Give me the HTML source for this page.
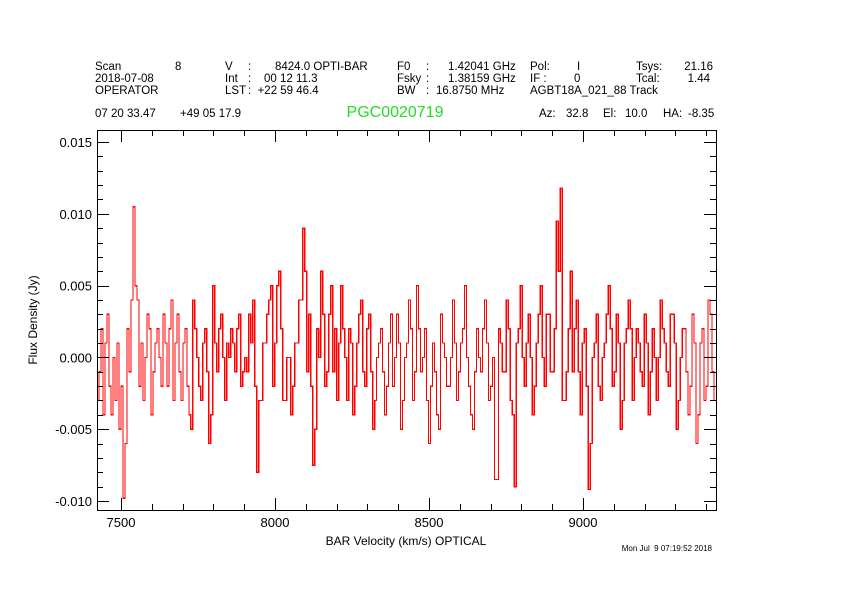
<!DOCTYPE html>
<html><head><meta charset="utf-8"><style>
body{margin:0;background:#fff;}
svg text{font-family:"Liberation Sans",sans-serif;white-space:pre;}
</style></head><body>
<svg width="842" height="595" viewBox="0 0 842 595" xmlns="http://www.w3.org/2000/svg" xml:space="preserve">
<rect width="842" height="595" fill="#fff"/>
<g font-size="11.5" fill="#000">
<text x="95" y="70">Scan</text><text x="175" y="70">8</text>
<text x="95" y="82">2018-07-08</text><text x="95" y="94">OPERATOR</text>
<text x="225" y="70">V</text><text x="248" y="70">:</text><text x="275" y="70">8424.0 OPTI-BAR</text>
<text x="225" y="82">Int</text><text x="248" y="82">:</text><text x="264" y="82">00 12 11.3</text>
<text x="225" y="94">LST</text><text x="248" y="94">:  +22 59 46.4</text>
<text x="397" y="70">F0</text><text x="426" y="70">:</text><text x="448" y="70">1.42041 GHz</text>
<text x="397" y="82">Fsky</text><text x="426" y="82">:</text><text x="448" y="82">1.38159 GHz</text>
<text x="397" y="94">BW</text><text x="426" y="94">:</text><text x="436" y="94">16.8750 MHz</text>
<text x="530" y="70">Pol:</text><text x="577" y="70">I</text>
<text x="530" y="82">IF :</text><text x="574" y="82">0</text>
<text x="530" y="94">AGBT18A_021_88 Track</text>
<text x="636" y="70">Tsys:</text><text x="713" y="70" text-anchor="end">21.16</text>
<text x="636" y="82">Tcal:</text><text x="710" y="82" text-anchor="end">1.44</text>
<text x="95" y="117">07 20 33.47</text><text x="180" y="117">+49 05 17.9</text>
<text x="539" y="117">Az:</text><text x="566" y="117">32.8</text><text x="603" y="117">El:</text><text x="625" y="117">10.0</text><text x="663" y="117">HA:</text><text x="688" y="117">-8.35</text>
</g>
<text x="395" y="117" font-size="16" fill="#22dd22" text-anchor="middle">PGC0020719</text>
<g id="axes"></g>
<text x="406" y="545" font-size="12" text-anchor="middle">BAR Velocity (km/s) OPTICAL</text>
<text transform="translate(37,320) rotate(-90)" font-size="12" text-anchor="middle">Flux Density (Jy)</text>
<text x="712" y="551" font-size="8" text-anchor="end">Mon Jul  9 07:19:52 2018</text>
</svg>
<script>
const fluxMJy=[
-3,-1,2,-4,1,3,-2,-4,0,-3,1,-5,-2,-9.8,-6,2,-1,4,10.5,5,
4,-2,1,-3,0,3,2,-4,-1,1,2,0,-2,3,1,-2,2,4,-3,1,
3,-1,-3,1,2,-2,-4,-5,4,2,0,-2,-3,1,2,-1,-6,-4,5,1,
-1,2,3,0,-3,1,0,2,1,-1,2,3,-2,-1,0,-1,3,1,4,-2,
-8,-3,-3,1,1,3,4,5,-2,1,5,6,2,-3,-3,0,0,-4,-2,1,
1,4,4,9,6,-1,3,-2,-7.5,-5,2,0,6,3,-2,-1,3,5,-1,2,
-3,1,5,2,0,-3,2,1,-4,-2,1,3,4,-1,-2,2,3,-1,-5,-3,
0,1,2,-1,-4,-2,1,3,-2,0,3,1,-5,-3,0,1,4,2,-3,-1,
5,2,-1,0,2,-3,-6,-2,1,-1,-4,-5,3,1,0,-2,-2,0,4,1,
-3,-1,1,2,5,0,-2,-4,-5,-1,2,0,-1,2,4,1,-3,-2,0,-8.5,
-8.5,2,1,-1,-1,4,2,-3,-4,-9,1,2,5,0,-2,1,3,0,-4,-2,
1,3,5,0,-2,3,3,-1,-1,2,9.5,6,11.8,-3,-3,-1,2,6,-1,2,
4,-1,-4,1,2,-2,-9.2,-6,0,1,3,-2,-3,0,1,3,5,2,-2,-1,
3,1,-5,-3,1,2,4,2,-3,0,2,1,-1,-2,3,1,-4,-1,2,0,
-3,0,4,2,1,-1,-2,3,3,1,-5,-3,0,2,2,-1,-4,-2,3,1,
-6,-4,1,2,-3,-2,4,3,-1,-3];
const xTicks=[7500,8000,8500,9000];
const xTickLabels=["7500","8000","8500","9000"];
const yTicks=[-0.010,-0.005,0,0.005,0.010,0.015];
const yTickLabels=["-0.010","-0.005","0.000","0.005","0.010","0.015"];
const xMin=7422,xMax=9432,yMin=-0.01063,yMax=0.01584;
const L=97,R=716,T=130,B=510;
const xs=v=>L+(v-xMin)/(xMax-xMin)*(R-L);
const ys=v=>B-(v-yMin)/(yMax-yMin)*(B-T);
const NS="http://www.w3.org/2000/svg";
const g=document.getElementById('axes');
function mk(t,a){const e=document.createElementNS(NS,t);for(const k in a)e.setAttribute(k,a[k]);g.appendChild(e);return e;}
const n=fluxMJy.length, dv=(xMax-xMin)/n;
let d="";
fluxMJy.forEach((f,i)=>{const y=ys(f/1000);const x0=xs(xMin+i*dv),x1=xs(xMin+(i+1)*dv);d+=(i?"L":"M")+x0.toFixed(1)+","+y.toFixed(1)+"L"+x1.toFixed(1)+","+y.toFixed(1);});
const line=mk('path',{d:d,fill:'none',stroke:'#ff0000','stroke-width':1.3,'shape-rendering':'crispEdges'});


const box=mk('rect',{x:L+0.5,y:T+0.5,width:R-L,height:B-T,fill:'none',stroke:'#000','stroke-width':1});


for(let v=7500;v<=9400;v+=100){const x=Math.round(xs(v))+0.5;const big=v%500===0;const l=big?12:6;
 mk('line',{x1:x,y1:B,x2:x,y2:B-l,stroke:'#000'});mk('line',{x1:x,y1:T,x2:x,y2:T+l,stroke:'#000'});}
for(let k=-10;k<=15;k++){const v=k/1000;const y=Math.round(ys(v))+0.5;const big=k%5===0;const l=big?12:6;
 mk('line',{x1:L,y1:y,x2:L+l,y2:y,stroke:'#000'});mk('line',{x1:R,y1:y,x2:R-l,y2:y,stroke:'#000'});}
xTicks.forEach((v,i)=>{const t=mk('text',{x:xs(v),y:B+17,'font-size':13,'text-anchor':'middle'});t.textContent=xTickLabels[i];

});
yTicks.forEach((v,i)=>{const t=mk('text',{x:L-5,y:ys(v)+5,'font-size':13,'text-anchor':'end'});t.textContent=yTickLabels[i];

});
</script>
</body></html>
